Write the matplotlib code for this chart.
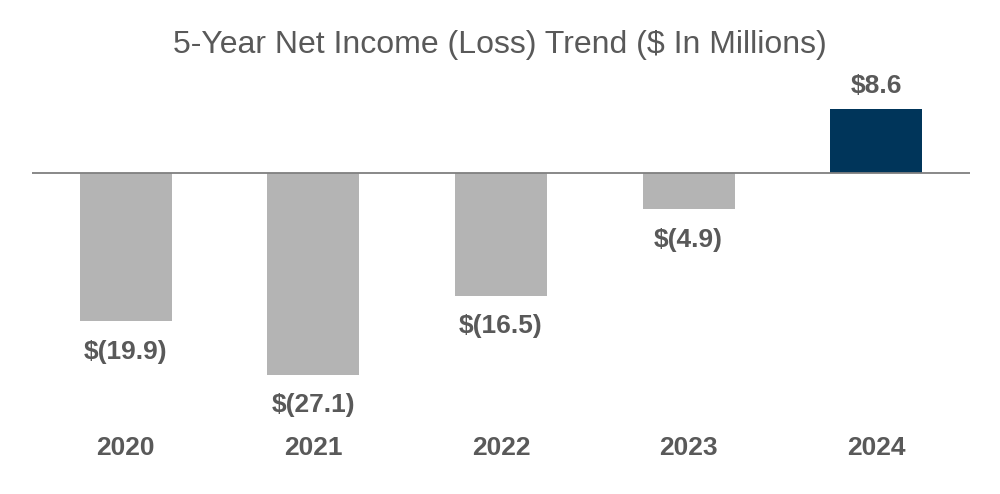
import matplotlib
matplotlib.use("Agg")
import matplotlib.pyplot as plt
import matplotlib.transforms as transforms

years = ["2020", "2021", "2022", "2023", "2024"]
net_income = [-19.9, -27.1, -16.5, -4.9, 8.6]
value_labels = ["$(19.9)", "$(27.1)", "$(16.5)", "$(4.9)", "$8.6"]

GRAY_BAR = "#b4b4b4"
NAVY = "#00355a"
TEXT = "#595959"
LINE = "#7f7f7f"

plt.rcParams['font.family'] = ['Liberation Sans', 'DejaVu Sans']

fig = plt.figure(figsize=(10, 4.94), dpi=100)
ax = fig.add_axes([0.032, (494 - 400) / 494, 0.938, 320 / 494])

colors = [NAVY if v > 0 else GRAY_BAR for v in net_income]
x = list(range(len(years)))
ax.bar(x, net_income, width=0.49, color=colors, zorder=2)
ax.axhline(0, color=LINE, lw=1.3, zorder=3)

ax.set_xlim(-0.5, 4.5)
ax.set_ylim(-30.5, 12.5)
ax.axis("off")

for xi, v, lab in zip(x, net_income, value_labels):
    off = 16.5 if v > 0 else -22
    ax.annotate(lab, (xi, v), xytext=(0, off), textcoords="offset points",
                ha="center", va="center", fontsize=19, fontweight="bold", color=TEXT)

trans = transforms.blended_transform_factory(ax.transData, fig.transFigure)
for xi, yr in zip(x, years):
    ax.text(xi, (494 - 448) / 494, yr, transform=trans, ha="center", va="center",
            fontsize=19, fontweight="bold", color=TEXT, clip_on=False)

fig.text(0.5, (494 - 45) / 494, "5-Year Net Income (Loss) Trend ($ In Millions)",
         ha="center", va="center", fontsize=23, color=TEXT)

fig.savefig("out.png", dpi=100, facecolor="white")
